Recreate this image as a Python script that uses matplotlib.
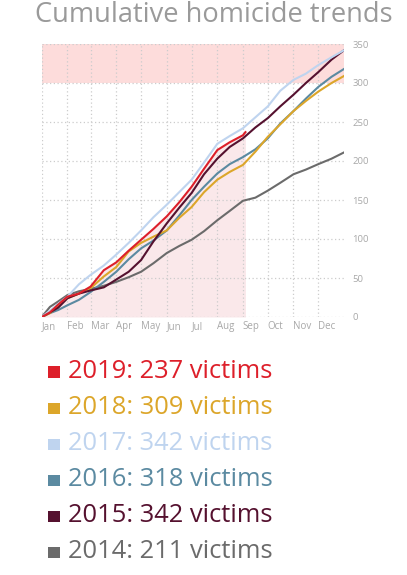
import matplotlib
matplotlib.use("Agg")
import matplotlib.pyplot as plt
from matplotlib.patches import Rectangle

# ───────────────────────────── data ───────────────────────────── #
days = [0, 10, 20, 31, 45, 59, 75, 90, 105, 120, 135, 151, 166,
        181, 196, 212, 227, 243, 258, 273, 288, 304, 319, 334, 350, 365]

days_2019 = [0, 10, 20, 31, 45, 59, 75, 90, 105, 120, 135, 151, 166,
             181, 196, 212, 227, 243, 246]
v2019 = [0, 6, 16, 26, 30, 39, 60, 70, 85, 99, 113, 129, 147,
         167, 190, 214, 224, 233, 237]

v2018 = [0, 5, 14, 24, 30, 37, 52, 64, 84, 95, 103, 111, 127,
         141, 160, 176, 186, 195, 212, 231, 247, 264, 277, 289, 300, 309]
v2017 = [0, 8, 17, 26, 42, 54, 66, 80, 95, 111, 128, 144, 160,
         176, 198, 222, 232, 242, 256, 270, 290, 304, 312, 323, 333, 342]
v2016 = [0, 5, 9, 15, 22, 32, 45, 58, 74, 88, 98, 111, 130,
         150, 167, 184, 196, 205, 215, 229, 248, 264, 280, 295, 308, 318]
v2015 = [0, 6, 12, 24, 30, 34, 38, 48, 58, 73, 97, 120, 140,
         159, 183, 203, 218, 229, 243, 255, 270, 285, 300, 314, 330, 342]
v2014 = [0, 13, 20, 28, 33, 36, 40, 45, 51, 58, 69, 82, 91,
         99, 110, 124, 136, 149, 153, 162, 172, 183, 189, 196, 203, 211]

years = ["2019", "2018", "2017", "2016", "2015", "2014"]
totals = [237, 309, 342, 318, 342, 211]
colors = ["#dd1f2a", "#dca62a", "#bfd4ef", "#5b8aa1", "#55112f", "#6b6b6b"]

month_starts = [0, 31, 59, 90, 120, 151, 181, 212, 243, 273, 304, 334]
month_labels = ["Jan", "Feb", "Mar", "Apr", "May", "Jun",
                "Jul", "Aug", "Sep", "Oct", "Nov", "Dec"]
y_ticks = [0, 50, 100, 150, 200, 250, 300, 350]

FONT = "Open Sans"
GREY_TXT = "#a8a8a8"

# ───────────────────────────── figure ─────────────────────────── #
fig = plt.figure(figsize=(4.07, 5.75), dpi=100)
ax = fig.add_axes([41.7 / 407, 1 - 317 / 575, (344 - 41.7) / 407, 273 / 575])

# shaded areas
ax.axhspan(300, 350, color="#fddcdb", zorder=0, lw=0)
ax.fill_between(days_2019, 0, v2019, color="#fae8ea", zorder=0, lw=0)

# dotted grid
for d in month_starts:
    ax.axvline(d, color="#cccccc", lw=0.9, ls=(0, (1, 2)), zorder=1)
for y in y_ticks:
    ax.axhline(y, color="#cccccc", lw=0.9, ls=(0, (1, 2)), zorder=1)

# lines (oldest first so 2019 sits on top)
series = [(days, v2014, colors[5]), (days, v2016, colors[3]),
          (days, v2018, colors[1]), (days, v2015, colors[4]),
          (days, v2017, colors[2]), (days_2019, v2019, colors[0])]
for x, y, c in series:
    ax.plot(x, y, color=c, lw=1.5, zorder=3, solid_joinstyle="round")

ax.set_xlim(0, 365)
ax.set_ylim(0, 350)
for s in ax.spines.values():
    s.set_visible(False)

ax.set_xticks(month_starts)
ax.set_xticklabels(month_labels, fontsize=7, color=GREY_TXT,
                   family=FONT, ha="left")
ax.set_yticks(y_ticks)
ax.set_yticklabels([str(t) for t in y_ticks], fontsize=6.8,
                   color=GREY_TXT, family=FONT)
ax.yaxis.tick_right()
ax.tick_params(length=0, pad=6)
ax.tick_params(axis="x", pad=3)

# title
fig.text(214 / 407, 1 - 15 / 575, "Cumulative homicide trends",
         ha="center", va="center", fontsize=19.6, color="#9a9a9a",
         family=FONT)

# legend rows
baselines = [377.7, 414, 450, 486, 522, 558]
for yr, tot, c, b in zip(years, totals, colors, baselines):
    fig.add_artist(Rectangle((48 / 407, 1 - b / 575), 11.5 / 407, 11.5 / 575,
                             transform=fig.transFigure, color=c, lw=0))
    fig.text(68 / 407, 1 - b / 575, f"{yr}: {tot} victims", color=c,
             fontsize=18.4, family=FONT, ha="left", va="baseline")

fig.savefig("out.png", dpi=100)
